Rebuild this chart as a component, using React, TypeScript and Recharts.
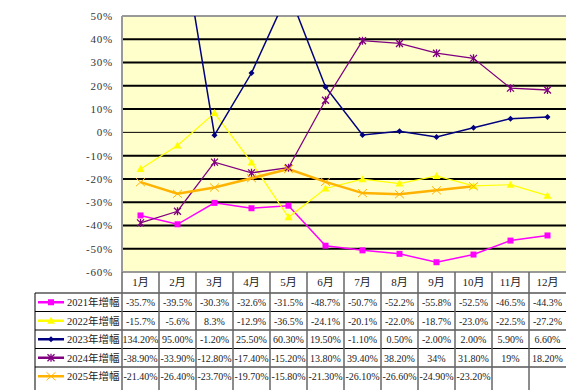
import React from 'react';
import { ComposedChart, Line, XAxis, YAxis, CartesianGrid, ReferenceLine } from 'recharts';

const months = ['1月', '2月', '3月', '4月', '5月', '6月', '7月', '8月', '9月', '10月', '11月', '12月'];
const growth2021 = [-35.7, -39.5, -30.3, -32.6, -31.5, -48.7, -50.7, -52.2, -55.8, -52.5, -46.5, -44.3];
const growth2022 = [-15.7, -5.6, 8.3, -12.9, -36.5, -24.1, -20.1, -22.0, -18.7, -23.0, -22.5, -27.2];
const growth2023 = [134.2, 95.0, -1.2, 25.5, 60.3, 19.5, -1.1, 0.5, -2.0, 2.0, 5.9, 6.6];
const growth2024 = [-38.9, -33.9, -12.8, -17.4, -15.2, 13.8, 39.4, 38.2, 34, 31.8, 19, 18.2];
const growth2025 = [-21.4, -26.4, -23.7, -19.7, -15.8, -21.3, -26.1, -26.6, -24.9, -23.2];

const labels2021 = ['-35.7%', '-39.5%', '-30.3%', '-32.6%', '-31.5%', '-48.7%', '-50.7%', '-52.2%', '-55.8%', '-52.5%', '-46.5%', '-44.3%'];
const labels2022 = ['-15.7%', '-5.6%', '8.3%', '-12.9%', '-36.5%', '-24.1%', '-20.1%', '-22.0%', '-18.7%', '-23.0%', '-22.5%', '-27.2%'];
const labels2023 = ['134.20%', '95.00%', '-1.20%', '25.50%', '60.30%', '19.50%', '-1.10%', '0.50%', '-2.00%', '2.00%', '5.90%', '6.60%'];
const labels2024 = ['-38.90%', '-33.90%', '-12.80%', '-17.40%', '-15.20%', '13.80%', '39.40%', '38.20%', '34%', '31.80%', '19%', '18.20%'];
const labels2025 = ['-21.40%', '-26.40%', '-23.70%', '-19.70%', '-15.80%', '-21.30%', '-26.10%', '-26.60%', '-24.90%', '-23.20%', '', ''];

const yTicks = [-60, -50, -40, -30, -20, -10, 0, 10, 20, 30, 40, 50];
const gridValues = [-50, -40, -30, -20, -10, 10, 20, 30, 40];

const series = [
  { key: 'y2021', name: '2021年增幅', color: '#FF00FF', width: 1.5, values: growth2021, labels: labels2021, shape: 'square' },
  { key: 'y2022', name: '2022年增幅', color: '#FFFF00', width: 1.2, values: growth2022, labels: labels2022, shape: 'triangle' },
  { key: 'y2023', name: '2023年增幅', color: '#000080', width: 1.5, values: growth2023, labels: labels2023, shape: 'diamond' },
  { key: 'y2024', name: '2024年增幅', color: '#800080', width: 1.3, values: growth2024, labels: labels2024, shape: 'star' },
  { key: 'y2025', name: '2025年增幅', color: '#FFB300', width: 2.5, values: growth2025, labels: labels2025, shape: 'x' },
];

const data = months.map((m, i) => {
  const row: any = { month: m };
  series.forEach((s) => {
    row[s.key] = s.values[i];
  });
  return row;
});

const W = 572;
const H = 390;
const PLOT_LEFT = 122;
const PLOT_RIGHT = 566;
const PLOT_TOP = 16;
const PLOT_BOTTOM = 272;
const Y_AXIS_W = 50;
const COL_W = (PLOT_RIGHT - PLOT_LEFT) / months.length;
const TABLE_LEFT = 35;
const HEADER_H = 21;
const ROW_H = 18.5;
const FONT = "'Liberation Serif', 'Noto Sans CJK SC', serif";

function Marker({ shape, cx, cy, color }: any) {
  switch (shape) {
    case 'square':
      return <rect x={cx - 3} y={cy - 3} width={6} height={6} fill={color} />;
    case 'triangle':
      return <path d={`M${cx},${cy - 4}L${cx + 4},${cy + 3}L${cx - 4},${cy + 3}Z`} fill={color} />;
    case 'diamond':
      return <path d={`M${cx},${cy - 3}L${cx + 3},${cy}L${cx},${cy + 3}L${cx - 3},${cy}Z`} fill={color} />;
    case 'star':
      return (
        <path
          d={`M${cx - 3.5},${cy - 3.5}L${cx + 3.5},${cy + 3.5}M${cx + 3.5},${cy - 3.5}L${cx - 3.5},${cy + 3.5}M${cx},${cy - 4}L${cx},${cy + 4}`}
          stroke={color}
          strokeWidth={1.3}
          fill="none"
        />
      );
    case 'x':
      return (
        <path
          d={`M${cx - 4.5},${cy - 4}L${cx + 4.5},${cy + 4}M${cx + 4.5},${cy - 4}L${cx - 4.5},${cy + 4}`}
          stroke={color}
          strokeWidth={1}
          fill="none"
        />
      );
    default:
      return null;
  }
}

function makeDot(shape: string, color: string) {
  return (p: any) => {
    const k = `${shape}-${p.index}`;
    if (p.value == null || p.cx == null || p.cy == null || isNaN(p.cx) || isNaN(p.cy)) return <g key={k} />;
    return (
      <g key={k}>
        <Marker shape={shape} cx={p.cx} cy={p.cy} color={color} />
      </g>
    );
  };
}

function TableTick(props: any) {
  const { x, y, payload } = props;
  const i = payload.index ?? props.index ?? 0;
  const left = x - COL_W / 2;
  const top = y;
  const rowTop = (r: number) => top + HEADER_H + r * ROW_H;
  return (
    <g>
      {i === 0 && (
        <g>
          <line x1={TABLE_LEFT} x2={TABLE_LEFT} y1={rowTop(0)} y2={H} stroke="#000" strokeWidth={1} />
          {series.map((s, r) => (
            <line key={`h${r}`} x1={TABLE_LEFT} x2={PLOT_RIGHT} y1={rowTop(r)} y2={rowTop(r)} stroke="#000" strokeWidth={1} />
          ))}
          {series.map((s, r) => {
            const cy = rowTop(r) + ROW_H / 2;
            return (
              <g key={`rh${r}`}>
                <line x1={38} x2={64} y1={cy} y2={cy} stroke={s.color} strokeWidth={2.5} />
                <Marker shape={s.shape} cx={51} cy={cy} color={s.color} />
                <text x={67} y={cy + 4} fontSize={10.5} fontFamily={FONT} fill="#222">
                  {s.name}
                </text>
              </g>
            );
          })}
        </g>
      )}
      <line x1={left} x2={left} y1={top} y2={H} stroke="#666" strokeWidth={1.5} />
      <text x={x} y={top + 14} textAnchor="middle" fontSize={11} fontFamily={FONT} fill="#222">
        {payload.value}
      </text>
      {series.map((s, r) => (
        <text
          key={`c${r}`}
          x={x}
          y={rowTop(r) + ROW_H / 2 + 4}
          textAnchor="middle"
          fontSize={10}
          fontFamily={FONT}
          fill="#222"
        >
          {s.labels[i]}
        </text>
      ))}
    </g>
  );
}

export default function App() {
  return (
    <div style={{ position: 'absolute', left: 0, top: 0, width: W, height: H, background: '#fff' }}>
      <ComposedChart
        width={W}
        height={H}
        data={data}
        margin={{ top: PLOT_TOP, right: W - PLOT_RIGHT, left: PLOT_LEFT - Y_AXIS_W, bottom: 0 }}
      >
        <CartesianGrid horizontal={false} vertical={false} fill="#FFFFCC" fillOpacity={1} />
        {gridValues.map((v) => (
          <ReferenceLine key={v} y={v} stroke="#000" strokeWidth={2} />
        ))}
        <ReferenceLine y={0} stroke="#000" strokeWidth={1} />
        <ReferenceLine y={50} stroke="#999" strokeWidth={2} />
        <XAxis
          dataKey="month"
          scale="band"
          height={H - PLOT_BOTTOM}
          interval={0}
          tickSize={0}
          tickMargin={0}
          tickLine={false}
          axisLine={{ stroke: '#999', strokeWidth: 2 }}
          tick={<TableTick />}
        />
        <YAxis
          width={Y_AXIS_W}
          domain={[-60, 50]}
          ticks={yTicks}
          allowDataOverflow
          interval={0}
          tickLine={false}
          tickSize={0}
          tickMargin={9}
          axisLine={{ stroke: '#999', strokeWidth: 2 }}
          tickFormatter={(v: number) => `${v}%`}
          tick={{ fontSize: 11, fontFamily: FONT, fill: '#333', letterSpacing: 0.8 }}
        />
        <YAxis
          yAxisId="right"
          orientation="right"
          width={0}
          domain={[-60, 50]}
          tick={false}
          tickLine={false}
          axisLine={{ stroke: '#999', strokeWidth: 2 }}
        />
        {series.map((s) => (
          <Line
            key={s.key}
            dataKey={s.key}
            name={s.name}
            type="linear"
            stroke={s.color}
            strokeWidth={s.width}
            dot={makeDot(s.shape, s.color)}
            activeDot={false}
            isAnimationActive={false}
            connectNulls={false}
          />
        ))}
      </ComposedChart>
    </div>
  );
}
